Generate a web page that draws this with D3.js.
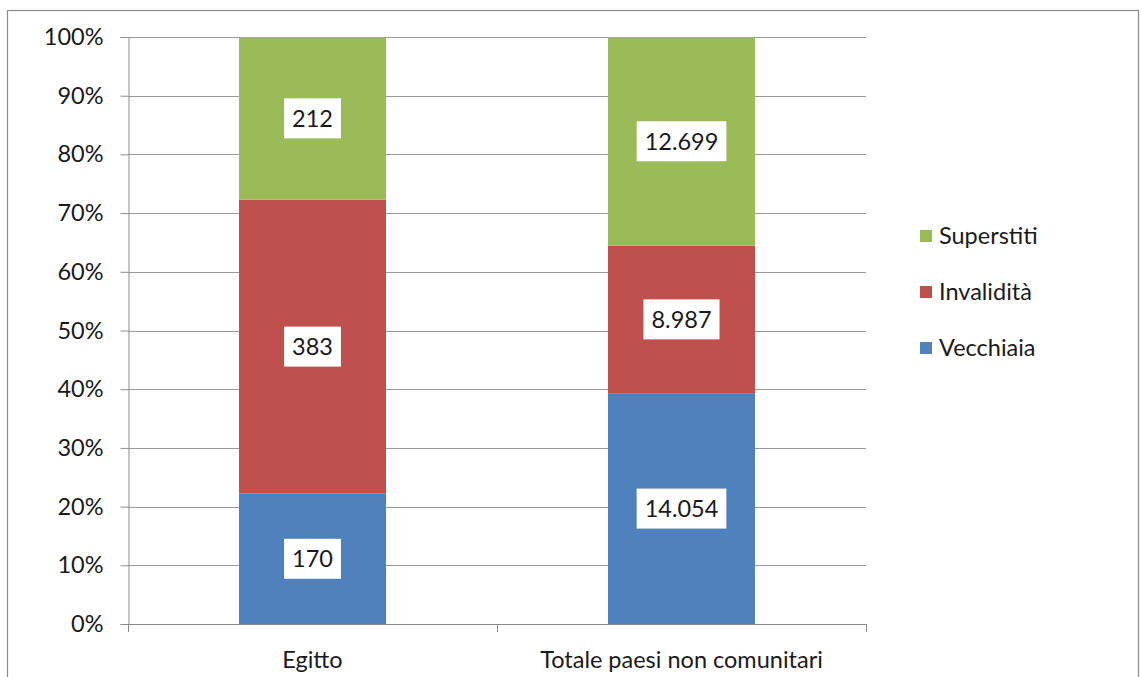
<!DOCTYPE html>
<html>
<head>
<meta charset="utf-8">
<script src="https://cdn.jsdelivr.net/npm/d3@7/dist/d3.min.js"></script>
<style>
  html, body { margin: 0; padding: 0; background: #fff; }
  svg { display: block; }
  text { font-family: Lato, "Open Sans", sans-serif; fill: #1a1a1a; }
</style>
</head>
<body>
<svg id="chart" width="1141" height="677"></svg>
<script>
// Pension counts by type, per country group
const categories = ["Egitto", "Totale paesi non comunitari"];
const seriesNames = ["Vecchiaia", "Invalidità", "Superstiti"];
const vecchiaia = [170, 14054];
const invalidita = [383, 8987];
const superstiti = [212, 12699];
const tickLabels = ["0%", "10%", "20%", "30%", "40%", "50%", "60%", "70%", "80%", "90%", "100%"];
const colors = ["#4F81BD", "#C0504D", "#9BBB59"];

const FS = 23.5;

const rows = categories.map((c, i) => ({
  cat: c, "Vecchiaia": vecchiaia[i], "Invalidità": invalidita[i], "Superstiti": superstiti[i]
}));

const svg = d3.select("#chart");
const margin = { left: 128, right: 1141 - 866, top: 37, bottom: 677 - 624 };
const W = 1141, H = 677;

// chart frame
svg.append("rect").attr("x", 7.5).attr("y", 10.5).attr("width", 1131).attr("height", 680)
  .attr("fill", "none").attr("stroke", "#8c8c8c").attr("stroke-width", 1.2);

const x = d3.scaleBand().domain(categories).range([margin.left, W - margin.right]).paddingInner(0).paddingOuter(0);
const y = d3.scaleLinear().domain([0, 1]).range([H - margin.bottom, margin.top]);

// gridlines
svg.append("g").selectAll("line").data(d3.range(1, 11).map(i => i / 10)).join("line")
  .attr("x1", margin.left).attr("x2", W - margin.right)
  .attr("y1", d => Math.round(y(d)) + 0.5).attr("y2", d => Math.round(y(d)) + 0.5)
  .attr("stroke", "#9a9a9a").attr("stroke-width", 1);

// stacked percentages
const stack = d3.stack().keys(seriesNames).offset(d3.stackOffsetExpand);
const layers = stack(rows);
const barW = 147;

const g = svg.append("g");
layers.forEach((layer, li) => {
  g.append("g").selectAll("rect").data(layer).join("rect")
    .attr("x", d => x(d.data.cat) + (x.bandwidth() - barW) / 2)
    .attr("width", barW)
    .attr("y", d => y(d[1]))
    .attr("height", d => y(d[0]) - y(d[1]))
    .attr("fill", colors[li]);
});

// y axis
const yAxis = d3.axisLeft(y).tickValues(d3.range(0, 11).map(i => i / 10))
  .tickFormat((d, i) => tickLabels[i]).tickSize(8).tickPadding(17);
const ya = svg.append("g").attr("transform", `translate(${margin.left + 0.5},0)`).call(yAxis);
ya.select(".domain").attr("stroke", "#8c8c8c");
ya.selectAll(".tick line").attr("stroke", "#8c8c8c");
ya.selectAll(".tick text").attr("font-size", FS).style("font-family", "Lato, 'Open Sans', sans-serif").attr("fill", "#1a1a1a");

// x axis baseline and category separators
const xa = svg.append("g");
xa.append("line").attr("x1", margin.left).attr("x2", W - margin.right)
  .attr("y1", y(0) + 0.5).attr("y2", y(0) + 0.5).attr("stroke", "#8c8c8c");
const sep = [...categories.map(c => x(c)), x(categories[categories.length - 1]) + x.bandwidth()];
xa.selectAll("line.sep").data(sep).join("line").attr("class", "sep")
  .attr("x1", d => Math.round(d) + 0.5).attr("x2", d => Math.round(d) + 0.5)
  .attr("y1", y(0)).attr("y2", y(0) + 8).attr("stroke", "#8c8c8c");
xa.selectAll("text").data(categories).join("text")
  .attr("x", d => x(d) + x.bandwidth() / 2).attr("y", 668)
  .attr("text-anchor", "middle").attr("font-size", FS).text(d => d);

// value labels in white boxes
const fmt = d3.formatLocale({ decimal: ",", thousands: ".", grouping: [3], currency: ["€", ""] }).format(",d");
layers.forEach((layer) => {
  layer.forEach(d => {
    const v = d.data[layer.key];
    const cx = x(d.data.cat) + x.bandwidth() / 2;
    const cy = (y(d[0]) + y(d[1])) / 2;
    const t = g.append("text").attr("x", cx).attr("y", cy).attr("dy", "0.36em")
      .attr("text-anchor", "middle").attr("font-size", FS).text(fmt(v));
    const bb = t.node().getBBox();
    const padX = 8, h = 40;
    g.insert("rect", () => t.node())
      .attr("x", cx - bb.width / 2 - padX).attr("y", cy - h / 2)
      .attr("width", bb.width + 2 * padX).attr("height", h).attr("fill", "#fff");
  });
});

// legend
const legendNames = seriesNames.slice().reverse();
const legendColors = colors.slice().reverse();
const lg = svg.append("g");
legendNames.forEach((n, i) => {
  const cy = 236 + i * 56;
  lg.append("rect").attr("x", 920).attr("y", cy - 6).attr("width", 12).attr("height", 12).attr("fill", legendColors[i]);
  lg.append("text").attr("x", 939).attr("y", cy).attr("dy", "0.36em").attr("font-size", FS).text(n);
});
</script>
</body>
</html>
